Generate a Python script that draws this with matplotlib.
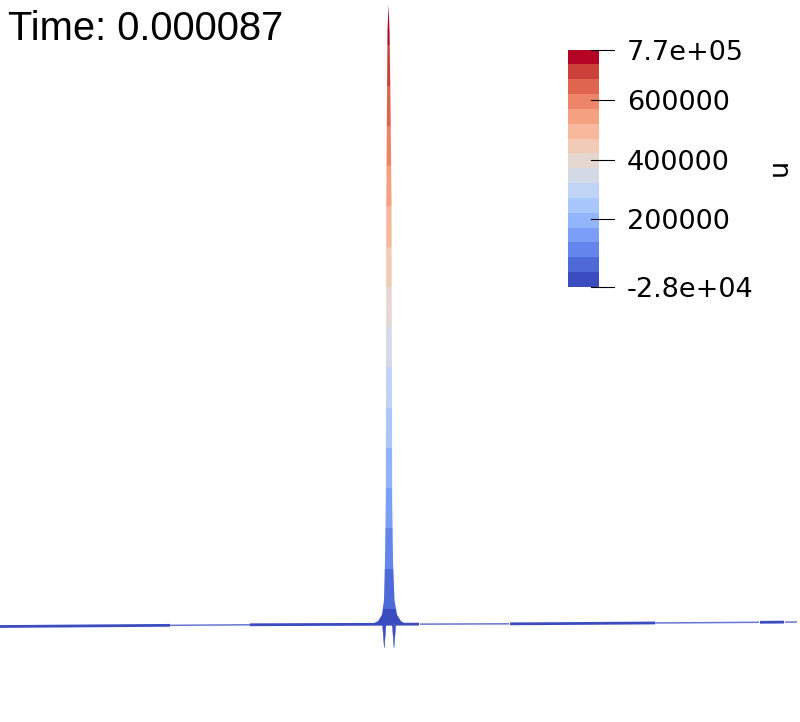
import numpy as np
import matplotlib
matplotlib.use("Agg")
import matplotlib.pyplot as plt
from matplotlib.colors import BoundaryNorm
from matplotlib.patches import Polygon
from matplotlib.collections import LineCollection

# ---------------- data ----------------
title_text = "Time: 0.000087"
field_name = "u"
u_min, u_max = -28000.0, 770000.0
n_bands = 16
cbar_ticks = [770000, 600000, 400000, 200000, -28000]
cbar_labels = ["7.7e+05", "600000", "400000", "200000", "-2.8e+04"]

# cross-section of the spike (x in domain units, u values)
spike_x = [-0.085, -0.07, -0.055, -0.045, -0.04, -0.0375, -0.0355, -0.035,
           -0.03425, -0.0325, -0.03125, -0.02875, -0.02625, -0.02375, -0.02125,
           -0.02, -0.0195, -0.0175, -0.01375, -0.0075, 0.0025, 0.015, 0.03]
spike_u = [2000, 2200, 6000, 14000, 32000, 82000, 156000, 280000,
           528000, 652000, 739000, 770000, 739000, 652000, 528000,
           280000, 156000, 82000, 32000, 14000, 6000, 2200, 2200]

# two small negative dips at the foot of the spike
dip1_x = [-0.04375, -0.03925, -0.035]
dip1_u = [2000, -27000, 2000]
dip2_x = [-0.01925, -0.015, -0.0105]
dip2_u = [2000, -27000, 2000]

# edge of the (nearly flat) surface seen from the side
base_x = [-1.0, -0.35, 0.35, 0.9, 1.0]
base_u = [-620, 1600, 2850, 4600, 4960]
# visible thickness pieces of the surface edge
piece_x = [-1.0, -0.575, -0.375, -0.0375, -0.0125, 0.05, 0.275, 0.6375, 0.9, 0.9625, 0.9925]
piece_thick = [1, 0, 1, 1, 1, 0, 1, 0, 1, 0]

# ---------------- figure ----------------
W, H, DPI = 800, 722, 100
fig = plt.figure(figsize=(W / DPI, H / DPI), dpi=DPI)
ax = fig.add_axes([0, 0, 1, 1])
ax.set_xlim(-1.0, 1.0)
ax.set_ylim(-119040, 776240)
ax.axis("off")

cmap = matplotlib.colormaps["coolwarm"].resampled(n_bands)
levels = np.linspace(u_min, u_max, n_bands + 1)
norm = BoundaryNorm(levels, cmap.N)

# surface edge line
bx = np.linspace(-1.0, 1.0, 801)
bu = np.interp(bx, base_x, base_u)
segs, lws, cols = [], [], []
for i, th in enumerate(piece_thick):
    m = (bx >= piece_x[i]) & (bx <= piece_x[i + 1])
    segs.append(np.column_stack([bx[m], bu[m]]))
    lws.append(2.0 if th else 1.1)
    cols.append("#3b4cc0" if th else "#6677d4")
ax.add_collection(LineCollection(segs, linewidths=lws, colors=cols, capstyle="butt", zorder=2))

# spike, coloured by value in discrete bands
grad = np.linspace(u_min, u_max, 2000).reshape(-1, 1)

def banded_poly(xs, us, z):
    poly = Polygon(np.column_stack([xs, us]), closed=True, facecolor="none",
                   edgecolor="none", transform=ax.transData)
    ax.add_patch(poly)
    im = ax.imshow(grad, cmap=cmap, norm=norm, origin="lower", aspect="auto",
                   extent=[min(xs), max(xs), u_min, u_max], interpolation="nearest",
                   zorder=z)
    im.set_clip_path(poly)
    ax.set_xlim(-1.0, 1.0)
    ax.set_ylim(-119040, 776240)

banded_poly(spike_x, spike_u, 3)
for dx, du in ((dip1_x, dip1_u), (dip2_x, dip2_u)):
    ax.fill(dx, du, color=cmap(0), lw=0.3, ec=cmap(0), zorder=4)

# title
fig.text(8 / W, 1 - 10 / H, title_text, fontsize=28.7, family="Liberation Sans",
         ha="left", va="top", color="black")

# colorbar
cax = fig.add_axes([567.7 / W, 1 - 287 / H, 31.6 / W, 237.5 / H])
sm = matplotlib.cm.ScalarMappable(norm=norm, cmap=cmap)
cb = fig.colorbar(sm, cax=cax, boundaries=levels, ticks=cbar_ticks)
cb.outline.set_visible(False)
cb.set_ticklabels(cbar_labels)
cax.minorticks_off()
cax.yaxis.set_minor_locator(matplotlib.ticker.NullLocator())
cax.tick_params(axis="y", which="both", length=0, pad=20, labelsize=19.5)
for lab in cax.get_yticklabels():
    lab.set_family("DejaVu Sans")
trans = matplotlib.transforms.blended_transform_factory(cax.transAxes, cax.transData)
for t in cbar_ticks:
    cax.plot([0.74, 1.47], [t, t], color="black", lw=0.8, transform=trans, clip_on=False)
fig.text(780 / W, 1 - 167 / H, field_name, fontsize=19.5, family="DejaVu Sans",
         rotation=90, ha="center", va="center")

fig.savefig("out.png", dpi=DPI)
